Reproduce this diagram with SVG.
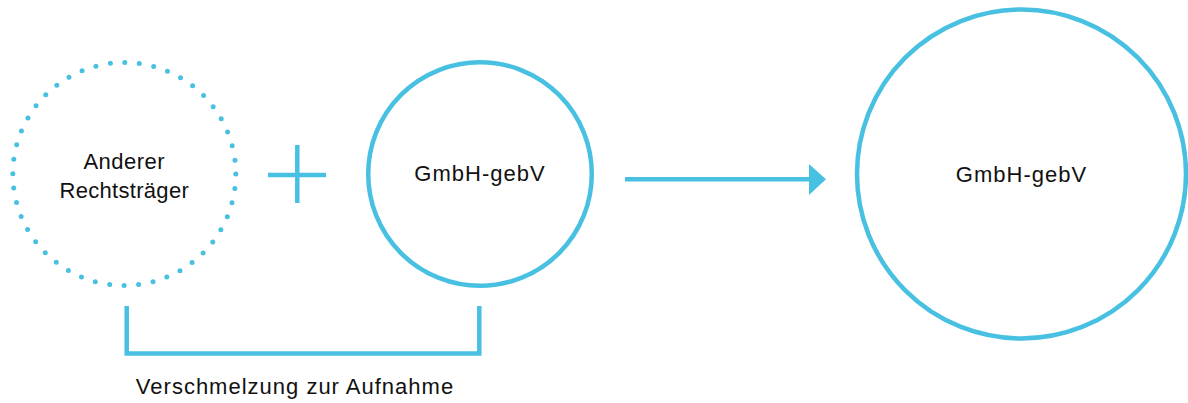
<svg xmlns="http://www.w3.org/2000/svg" width="1188" height="403" viewBox="0 0 1188 403">
<style>
.c{fill:none;stroke:#48c0e2;stroke-width:4.5}
.dot{fill:none;stroke:#48c0e2;stroke-width:5;stroke-linecap:round;stroke-dasharray:0 14.595}
.ln{fill:none;stroke:#48c0e2;stroke-width:4.5}
.t{font-family:"Liberation Sans",Arial,sans-serif;font-size:22px;fill:#111;text-anchor:middle}
</style>
<rect width="1188" height="403" fill="#fff"/>
<g id="anderer">
<circle class="dot" cx="124.3" cy="174" r="111.5"/>
<text class="t" x="124.3" y="169" style="letter-spacing:0.5px">Anderer</text>
<text class="t" x="124.3" y="197.5" style="letter-spacing:0.3px">Rechtsträger</text>
</g>
<g id="plus">
<line class="ln" x1="268" y1="175" x2="326" y2="175"/>
<line class="ln" x1="297.3" y1="145" x2="297.3" y2="203"/>
</g>
<g id="gmbh1">
<circle class="c" cx="480" cy="174" r="111.8"/>
<text class="t" x="480" y="181" style="letter-spacing:1px">GmbH-gebV</text>
</g>
<g id="gmbh2">
<circle class="c" cx="1021.5" cy="174" r="164.5"/>
<text class="t" x="1021.5" y="181.5" style="letter-spacing:1px">GmbH-gebV</text>
</g>
<g id="connectors">
<line class="ln" x1="625" y1="179.3" x2="810" y2="179.3"/>
<polygon points="809,164 826,179.3 809,195" fill="#48c0e2"/>
<polyline class="ln" points="126.7,306 126.7,353.5 479.3,353.5 479.3,306"/>
</g>
<text class="t" x="295" y="393.5" style="letter-spacing:1px">Verschmelzung zur Aufnahme</text>
</svg>
